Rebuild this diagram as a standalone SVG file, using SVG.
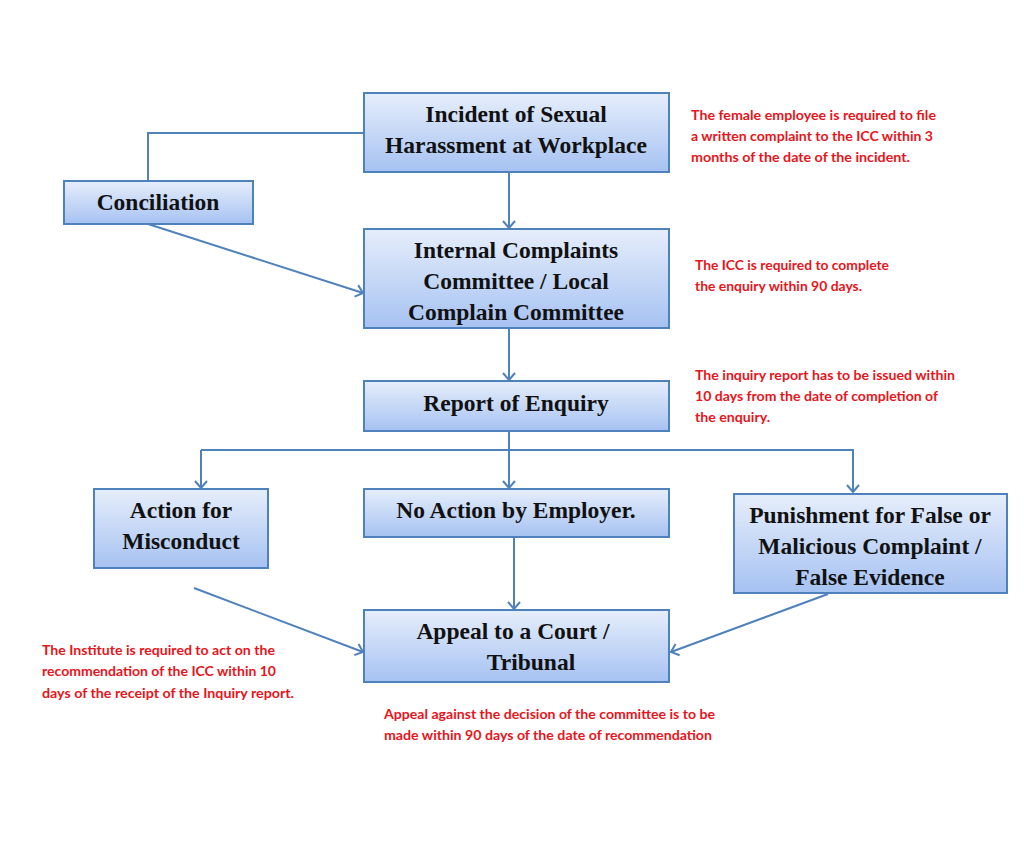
<svg xmlns="http://www.w3.org/2000/svg" width="1024" height="852" viewBox="0 0 1024 852">
<defs>
<linearGradient id="boxfill" x1="0" y1="0" x2="0" y2="1">
<stop offset="0" stop-color="#e6eefb"/>
<stop offset="1" stop-color="#a6c2f2"/>
</linearGradient>
<marker id="arr" markerUnits="userSpaceOnUse" markerWidth="16" markerHeight="16" refX="13" refY="8" orient="auto">
<path d="M6,2 L13,8 L6,14" fill="none" stroke="#4f81bd" stroke-width="2"/>
</marker>
</defs>
<style>
.box{fill:url(#boxfill);stroke:#4f81bd;stroke-width:2}
.lbl{font-family:"Liberation Serif","Times New Roman",serif;font-weight:bold;font-size:23.5px;fill:#111;text-anchor:middle}
.note{font-family:Lato,"Liberation Sans",sans-serif;font-weight:bold;font-size:12.5px;fill:#e8141b}
.conn{fill:none;stroke:#4f81bd;stroke-width:2}
</style>
<rect width="1024" height="852" fill="#ffffff"/>
<g id="connectors">
<polyline class="conn" points="364,133 148,133 148,181"/>
<line class="conn" x1="509" y1="172" x2="509" y2="228" marker-end="url(#arr)"/>
<line class="conn" x1="148" y1="224" x2="363" y2="293" marker-end="url(#arr)"/>
<line class="conn" x1="509" y1="328" x2="509" y2="380" marker-end="url(#arr)"/>
<line class="conn" x1="509" y1="431" x2="509" y2="488" marker-end="url(#arr)"/>
<polyline class="conn" points="201,450 853,450 853,492" marker-end="url(#arr)"/>
<line class="conn" x1="201" y1="450" x2="201" y2="488" marker-end="url(#arr)"/>
<line class="conn" x1="514" y1="537" x2="514" y2="609" marker-end="url(#arr)"/>
<line class="conn" x1="194" y1="588" x2="363" y2="652" marker-end="url(#arr)"/>
<line class="conn" x1="828" y1="594" x2="671" y2="652" marker-end="url(#arr)"/>
</g>
<g id="incident">
<rect class="box" x="364" y="93" width="305" height="79"/>
<text class="lbl" x="516" y="122">Incident of Sexual</text>
<text class="lbl" x="516" y="153">Harassment at Workplace</text>
</g>
<g id="conciliation">
<rect class="box" x="64" y="181" width="189" height="43"/>
<text class="lbl" x="158" y="210">Conciliation</text>
</g>
<g id="icc">
<rect class="box" x="364" y="229" width="305" height="99"/>
<text class="lbl" x="516" y="258">Internal Complaints</text>
<text class="lbl" x="516" y="289">Committee / Local</text>
<text class="lbl" x="516" y="320">Complain Committee</text>
</g>
<g id="report">
<rect class="box" x="364" y="381" width="305" height="50"/>
<text class="lbl" x="516" y="411">Report of Enquiry</text>
</g>
<g id="action">
<rect class="box" x="94" y="489" width="174" height="79"/>
<text class="lbl" x="181" y="518">Action for</text>
<text class="lbl" x="181" y="549">Misconduct</text>
</g>
<g id="noaction">
<rect class="box" x="364" y="489" width="305" height="48"/>
<text class="lbl" x="516" y="518">No Action by Employer.</text>
</g>
<g id="punishment">
<rect class="box" x="734" y="494" width="273" height="99"/>
<text class="lbl" x="870" y="523">Punishment for False or</text>
<text class="lbl" x="870" y="554">Malicious Complaint /</text>
<text class="lbl" x="870" y="585">False Evidence</text>
</g>
<g id="appeal">
<rect class="box" x="364" y="610" width="305" height="72"/>
<text class="lbl" x="513" y="639">Appeal to a Court /</text>
<text class="lbl" x="531" y="670">Tribunal</text>
</g>
<g id="notes">
<text class="note" x="691" y="120" textLength="245" lengthAdjust="spacingAndGlyphs">The female employee is required to file</text>
<text class="note" x="691" y="141" textLength="242" lengthAdjust="spacingAndGlyphs">a written complaint to the ICC within 3</text>
<text class="note" x="691" y="162" textLength="219" lengthAdjust="spacingAndGlyphs">months of the date of the incident.</text>
<text class="note" x="695" y="270" textLength="194" lengthAdjust="spacingAndGlyphs">The ICC is required to complete</text>
<text class="note" x="695" y="291" textLength="167" lengthAdjust="spacingAndGlyphs">the enquiry within 90 days.</text>
<text class="note" x="695" y="380" textLength="260" lengthAdjust="spacingAndGlyphs">The inquiry report has to be issued within</text>
<text class="note" x="695" y="401" textLength="243" lengthAdjust="spacingAndGlyphs">10 days from the date of completion of</text>
<text class="note" x="695" y="422" textLength="75" lengthAdjust="spacingAndGlyphs">the enquiry.</text>
<text class="note" x="42" y="655" textLength="233" lengthAdjust="spacingAndGlyphs">The Institute is required to act on the</text>
<text class="note" x="42" y="676" textLength="234" lengthAdjust="spacingAndGlyphs">recommendation of the ICC within 10</text>
<text class="note" x="42" y="698" textLength="252" lengthAdjust="spacingAndGlyphs">days of the receipt of the Inquiry report.</text>
<text class="note" x="384" y="719" textLength="331" lengthAdjust="spacingAndGlyphs">Appeal against the decision of the committee is to be</text>
<text class="note" x="384" y="740" textLength="328" lengthAdjust="spacingAndGlyphs">made within 90 days of the date of recommendation</text>
</g>
</svg>
